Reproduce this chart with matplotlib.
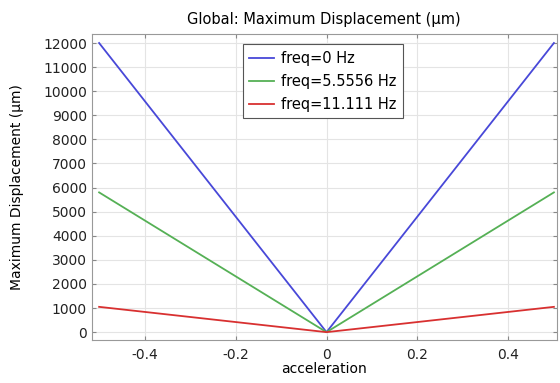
import numpy as np
import matplotlib
matplotlib.use('Agg')
import matplotlib.pyplot as plt

# data
accel = [-0.5, 0.0, 0.5]
disp_f0 = [12000, 0, 12000]
disp_f1 = [5800, 0, 5800]
disp_f2 = [1050, 0, 1050]
labels = ['freq=0 Hz', 'freq=5.5556 Hz', 'freq=11.111 Hz']
colors = ['#4848d8', '#55b055', '#d83030']

fig = plt.figure(figsize=(5.6, 3.83), dpi=100)
ax = fig.add_axes([0.164, 0.112, 0.830, 0.799])

for ys, lab, c in zip([disp_f0, disp_f1, disp_f2], labels, colors):
    ax.plot(accel, ys, color=c, lw=1.3, label=lab)

ax.set_xlim(-0.516, 0.506)
ax.set_ylim(-330, 12370)
ax.set_xticks([-0.4, -0.2, 0, 0.2, 0.4])
ax.set_xticklabels(['-0.4', '-0.2', '0', '0.2', '0.4'])
ax.set_yticks(np.arange(0, 12001, 1000))
ax.grid(True, color='#e4e4e4', lw=0.8)
ax.tick_params(direction='in', top=True, right=True, labelsize=10,
               length=3, color='#888888', labelcolor='#222222')
ax.tick_params(axis='x', pad=6)
for s in ax.spines.values():
    s.set_color('#999999')

ax.set_title('Global: Maximum Displacement (µm)', fontsize=10.5, pad=7)
ax.set_xlabel('acceleration', fontsize=10, labelpad=0)
ax.set_ylabel('Maximum Displacement (µm)', fontsize=10, labelpad=14)

leg = ax.legend(loc='upper left', bbox_to_anchor=(0.325, 0.967), fontsize=10.5,
                fancybox=False, framealpha=1, edgecolor='#555555',
                handlelength=1.7, handletextpad=0.45, borderpad=0.45,
                labelspacing=0.55, borderaxespad=0)
leg.get_frame().set_linewidth(0.8)

fig.savefig('out.png', dpi=100)
